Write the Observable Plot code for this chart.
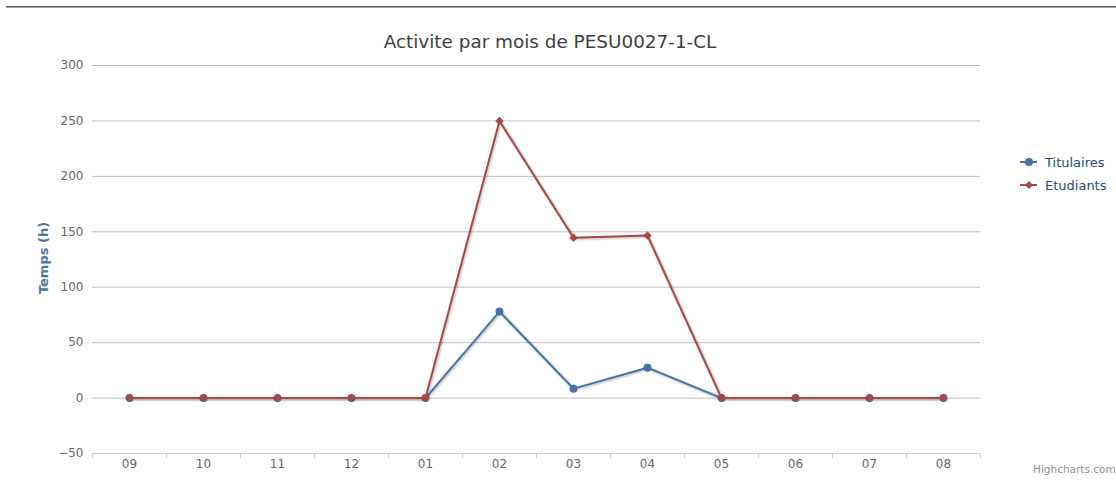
<!DOCTYPE html>
<html>
<head>
<meta charset="utf-8">
<script src="https://cdn.jsdelivr.net/npm/d3@7"></script>
<script src="https://cdn.jsdelivr.net/npm/@observablehq/plot@0.6"></script>
<style>
  html, body { margin: 0; padding: 0; background: #fff; }
  #wrap { position: relative; width: 1116px; height: 485px; overflow: hidden; }
  #topline { position: absolute; top: 6px; left: 6px; right: 0; height: 1px; background: #555; border-bottom: 1px solid #aaa; }
  #title { position: absolute; top: 31px; left: 0; width: 1100px; text-align: center; font-family: "DejaVu Sans", sans-serif; font-size: 18.4px; color: #3e3e3e; line-height: 22px; }
  #ytitle { position: absolute; left: 43px; top: 258px; transform: translate(-50%, -50%) rotate(-90deg); font-family: "DejaVu Sans", sans-serif; font-size: 13px; font-weight: bold; color: #4d759e; white-space: nowrap; }
  #credits { position: absolute; left: 1033px; top: 463px; font-family: "DejaVu Sans", sans-serif; font-size: 10.5px; color: #909090; white-space: nowrap; }
  #chart { position: absolute; left: 0; top: 0; }
  #legend { position: absolute; left: 1015px; top: 150px; }
</style>
</head>
<body>
<div id="wrap">
  <div id="topline"></div>
  <div id="chart"></div>
  <div id="title">Activite par mois de PESU0027-1-CL</div>
  <div id="ytitle">Temps (h)</div>
  <svg id="legend" width="101" height="50"></svg>
  <div id="credits">Highcharts.com</div>
</div>
<script>
const months = ["09", "10", "11", "12", "01", "02", "03", "04", "05", "06", "07", "08"];
const titulaires = [0, 0, 0, 0, 0, 78, 8.5, 27.4, 0, 0, 0, 0];
const etudiants = [0, 0, 0, 0, 0, 250, 144.6, 146.6, 0, 0, 0, 0];
const seriesNames = ["Titulaires", "Etudiants"];
const seriesColors = ["#4572A7", "#AA4643"];
const yTicks = [-50, 0, 50, 100, 150, 200, 250, 300];

const idx = months.map((_, i) => i);
const bounds = months.map((_, i) => i + 0.5).concat([-0.5]);
const rowsT = titulaires.map((v, i) => ({i, month: months[i], value: v, series: seriesNames[0]}));
const rowsE = etudiants.map((v, i) => ({i, month: months[i], value: v, series: seriesNames[1]}));

const shadow = (rows) => [
  Plot.line(rows, {x: "i", y: "value", stroke: "#000", strokeOpacity: 0.05, strokeWidth: 5, dx: 1, dy: 1}),
  Plot.line(rows, {x: "i", y: "value", stroke: "#000", strokeOpacity: 0.1, strokeWidth: 3, dx: 1, dy: 1})
];

const chart = Plot.plot({
  width: 1116,
  height: 485,
  marginTop: 65,
  marginBottom: 32,
  marginLeft: 92,
  marginRight: 136,
  style: {fontFamily: "DejaVu Sans, sans-serif", fontSize: "12px", color: "#666", background: "transparent", overflow: "visible"},
  x: {type: "linear", domain: [-0.5, 11.5]},
  y: {domain: [-50, 300]},
  marks: [
    Plot.gridY(yTicks, {stroke: "#C0C0C0", strokeOpacity: 1}),
    Plot.axisY(yTicks, {tickSize: 0, tickPadding: 9, label: null}),
    Plot.ruleY([-50], {stroke: "#C0D0E0"}),
    Plot.axisX(bounds, {tickSize: 5, tickFormat: () => "", stroke: "#C0D0E0", label: null}),
    Plot.axisX(idx, {tickSize: 0, tickPadding: 6, tickFormat: i => months[i], label: null}),
    ...shadow(rowsT),
    Plot.line(rowsT, {x: "i", y: "value", stroke: seriesColors[0], strokeWidth: 2}),
    Plot.dot(rowsT, {x: "i", y: "value", r: 4, fill: seriesColors[0], stroke: null}),
    ...shadow(rowsE),
    Plot.line(rowsE, {x: "i", y: "value", stroke: seriesColors[1], strokeWidth: 2}),
    Plot.dot(rowsE, {x: "i", y: "value", r: 3.8, symbol: "diamond2", fill: seriesColors[1], stroke: null})
  ]
});
document.getElementById("chart").appendChild(chart);

// legend
const lg = d3.select("#legend");
seriesNames.forEach((name, k) => {
  const g = lg.append("g").attr("transform", `translate(0, ${12 + k * 23})`);
  g.append("line").attr("x1", 5).attr("x2", 22).attr("y1", 0).attr("y2", 0).attr("stroke", seriesColors[k]).attr("stroke-width", 2);
  if (k === 0) g.append("circle").attr("cx", 14).attr("cy", 0).attr("r", 4).attr("fill", seriesColors[k]);
  else g.append("path").attr("d", "M14,-4L18,0L14,4L10,0Z").attr("fill", seriesColors[k]);
  g.append("text").attr("x", 30).attr("y", 5).text(name)
    .attr("font-family", "DejaVu Sans, sans-serif").attr("font-size", 13).attr("fill", "#274b6d");
});
</script>
</body>
</html>
